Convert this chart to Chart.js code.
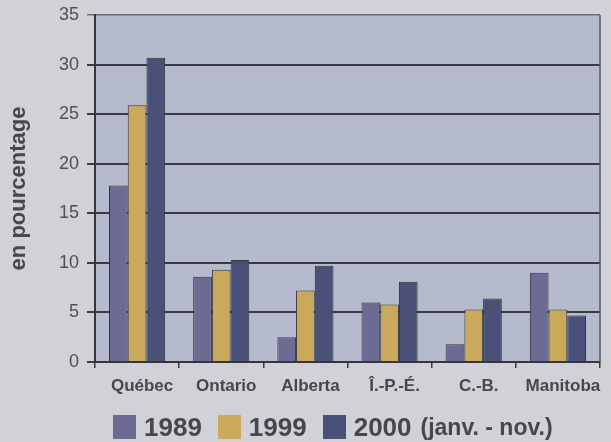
<!DOCTYPE html>
<html>
<head>
<meta charset="utf-8">
<script src="https://cdn.jsdelivr.net/npm/chart.js@4/dist/chart.umd.min.js"></script>
<style>
  html, body { margin: 0; padding: 0; background: #d1d2d7; }
  #wrap { position: relative; width: 611px; height: 442px; }
  #c { position: absolute; left: 0; top: 0; }
  #legend { position: absolute; left: 113px; top: 412px; display: flex; align-items: center;
            font-family: "Liberation Sans", Arial, sans-serif; font-weight: bold; color: #474749; }
  .item { display: flex; align-items: center; margin-right: 16px; }
  .box { width: 23px; height: 24px; margin-right: 8px; }
  .main { font-size: 26px; line-height: 30px; }
  .note { font-size: 23px; line-height: 30px; margin-left: 9px; }
</style>
</head>
<body>
<div id="wrap">
  <canvas id="c" width="611" height="442"></canvas>
  <div id="legend"></div>
</div>
<script>
const categories = ['Québec', 'Ontario', 'Alberta', 'Î.-P.-É.', 'C.-B.', 'Manitoba'];
const seriesLabels = ['1989', '1999', '2000'];
const seriesNotes = ['', '', '(janv. - nov.)'];
const values1989 = [17.8, 8.6, 2.5, 6.0, 1.8, 9.0];
const values1999 = [25.9, 9.3, 7.2, 5.8, 5.3, 5.3];
const values2000 = [30.7, 10.3, 9.7, 8.1, 6.4, 4.7];
const yTicks = [0, 5, 10, 15, 20, 25, 30, 35];
const yTitle = 'en pourcentage';

const colors = ['#6d6b93', '#caa95c', '#4a5077'];
const seriesValues = [values1989, values1999, values2000];
const FONT = '"Liberation Sans", Arial, sans-serif';

const plotBg = {
  id: 'plotBg',
  beforeDraw(chart) {
    const { ctx, chartArea: a } = chart;
    ctx.save();
    ctx.fillStyle = '#b5bbcc';
    ctx.fillRect(a.left, a.top, a.right - a.left, a.bottom - a.top);
    ctx.restore();
  },
  afterDatasetsDraw(chart) {
    const { ctx, chartArea: a } = chart;
    ctx.save();
    ctx.strokeStyle = '#5a5a66';
    ctx.lineWidth = 1.5;
    ctx.beginPath();
    ctx.moveTo(a.right, a.bottom);
    ctx.lineTo(a.right, a.top);
    ctx.stroke();
    ctx.restore();
  }
};

new Chart(document.getElementById('c'), {
  type: 'bar',
  data: {
    labels: categories,
    datasets: seriesLabels.map((l, i) => ({
      label: l + (seriesNotes[i] ? ' ' + seriesNotes[i] : ''),
      data: seriesValues[i],
      backgroundColor: colors[i],
      borderColor: '#34343f',
      borderWidth: 1,
      barPercentage: 1,
      categoryPercentage: 0.667
    }))
  },
  options: {
    responsive: false,
    animation: false,
    layout: { padding: { top: 15, right: 11, left: 0, bottom: 0 } },
    plugins: { legend: { display: false }, tooltip: { enabled: false } },
    scales: {
      x: {
        afterFit(s) { s.height = 80; s.paddingLeft = 0; s.paddingRight = 0; },
        grid: { drawOnChartArea: false, drawTicks: true, tickLength: 6, color: '#3a3a44', lineWidth: 1.5 },
        border: { color: '#35353f', width: 2 },
        ticks: { font: { family: FONT, size: 17, weight: 'bold' }, color: '#474749', padding: 8, labelOffset: 5, maxRotation: 0, autoSkip: false }
      },
      y: {
        min: 0, max: 35,
        afterFit(s) { s.width = 95; s.paddingTop = 0; s.paddingBottom = 0; },
        afterBuildTicks(s) { s.ticks = yTicks.map(v => ({ value: v })); },
        grid: {
          color: ctx => ctx.tick && ctx.tick.value === 35 ? '#6a6a74' : '#3a3a46',
          lineWidth: ctx => ctx.tick && ctx.tick.value === 35 ? 1.5 : 2,
          tickLength: 8, drawTicks: true
        },
        border: { color: '#35353f', width: 2 },
        ticks: { font: { family: FONT, size: 18 }, color: '#505052', padding: 8 },
        title: { display: true, text: yTitle, font: { family: FONT, size: 22, weight: 'bold' }, color: '#474749', padding: { top: 6, bottom: 0 } }
      }
    }
  },
  plugins: [plotBg]
});

const leg = document.getElementById('legend');
seriesLabels.forEach((l, i) => {
  const it = document.createElement('div'); it.className = 'item';
  const b = document.createElement('div'); b.className = 'box'; b.style.background = colors[i];
  const t = document.createElement('span'); t.className = 'main'; t.textContent = l;
  it.appendChild(b); it.appendChild(t);
  if (seriesNotes[i]) { const n = document.createElement('span'); n.className = 'note'; n.textContent = seriesNotes[i]; it.appendChild(n); }
  leg.appendChild(it);
});
</script>
</body>
</html>
